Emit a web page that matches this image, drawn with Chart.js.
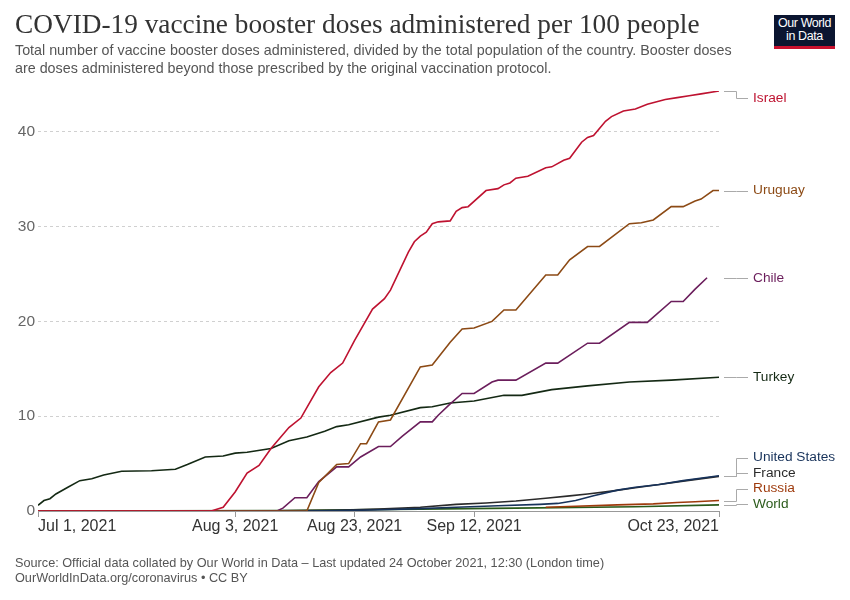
<!DOCTYPE html>
<html>
<head>
<meta charset="utf-8">
<script src="https://cdn.jsdelivr.net/npm/chart.js@4.4.0/dist/chart.umd.min.js"></script>
<style>
  body { margin: 0; background: #fff; }
  #wrap { position: relative; width: 850px; height: 600px; overflow: hidden; }
  #boosterChart { position: absolute; left: 0; top: 0; }
  .title { position: absolute; left: 15px; top: 9px; font: 27.3px "Liberation Serif", serif; color: #333; white-space: nowrap; }
  .subtitle { position: absolute; left: 15px; top: 41px; font: 14.3px "Liberation Sans", Arial, sans-serif; line-height: 18px; color: #555; white-space: nowrap; }
  .logo { position: absolute; left: 774px; top: 15px; width: 61px; height: 29px; background: #0b1530; border-bottom: 3px solid #c8102e;
          color: #fff; font: 12.5px "Liberation Sans", Arial, sans-serif; letter-spacing: -0.4px; line-height: 13px; text-align: center; padding-top: 2px; }
  .footer { position: absolute; left: 15px; top: 556px; font: 12.7px "Liberation Sans", Arial, sans-serif; line-height: 15px; color: #555; white-space: nowrap; }
</style>
</head>
<body>
<div id="wrap">
  <canvas id="boosterChart" width="850" height="600"></canvas>
  <div class="title">COVID-19 vaccine booster doses administered per 100 people</div>
  <div class="subtitle">Total number of vaccine booster doses administered, divided by the total population of the country. Booster doses<br>are doses administered beyond those prescribed by the original vaccination protocol.</div>
  <div class="logo">Our World<br>in Data</div>
  <div class="footer">Source: Official data collated by Our World in Data – Last updated 24 October 2021, 12:30 (London time)<br>OurWorldInData.org/coronavirus • CC BY</div>
</div>
<script>
// days counted from Jul 1, 2021
const xTickDays = [0, 33, 53, 73, 114];
const xTickLabels = ['Jul 1, 2021', 'Aug 3, 2021', 'Aug 23, 2021', 'Sep 12, 2021', 'Oct 23, 2021'];
const yTicks = [0, 10, 20, 30, 40];

const israelDays = [0, 29, 31, 33, 35, 37, 39, 42, 44, 47, 49, 51, 53, 56, 58, 59, 62, 63, 64, 65, 66, 67, 69, 70, 71, 72, 75, 77, 78, 79, 80, 82, 85, 86, 88, 89, 91, 92, 93, 95, 96, 98, 100, 102, 105, 107, 109, 111, 114];
const israelValues = [0, 0, 0.4, 2.0, 4.0, 4.8, 6.6, 8.8, 9.8, 13.1, 14.6, 15.6, 18.0, 21.3, 22.4, 23.3, 27.3, 28.4, 29.0, 29.4, 30.3, 30.5, 30.6, 31.6, 32.0, 32.1, 33.8, 34.0, 34.4, 34.6, 35.1, 35.3, 36.2, 36.3, 37.0, 37.2, 38.9, 39.4, 39.6, 41.1, 41.6, 42.2, 42.4, 42.9, 43.4, 43.6, 43.8, 44.0, 44.3];

const uruguayDays = [0, 45, 47, 50, 52, 54, 55, 57, 59, 64, 66, 69, 71, 73, 76, 78, 80, 85, 87, 89, 92, 94, 99, 101, 103, 106, 108, 110, 111, 113, 114];
const uruguayValues = [0, 0, 3.0, 4.9, 5.0, 7.1, 7.1, 9.4, 9.6, 15.2, 15.4, 17.8, 19.2, 19.3, 20.0, 21.2, 21.2, 24.9, 24.9, 26.5, 27.9, 27.9, 30.3, 30.4, 30.7, 32.1, 32.1, 32.7, 32.9, 33.8, 33.8];

const chileDays = [0, 40, 41, 43, 45, 47, 50, 52, 54, 57, 59, 61, 64, 66, 67, 69, 71, 73, 76, 77, 80, 85, 87, 92, 94, 99, 102, 106, 108, 110, 112];
const chileValues = [0, 0, 0.3, 1.4, 1.4, 3.1, 4.65, 4.65, 5.7, 6.8, 6.8, 7.9, 9.4, 9.4, 10.1, 11.3, 12.4, 12.4, 13.6, 13.8, 13.8, 15.6, 15.6, 17.7, 17.7, 19.9, 19.9, 22.1, 22.1, 23.4, 24.6];

const turkeyDays = [0, 1, 2, 3, 5, 7, 9, 11, 14, 19, 23, 25, 28, 31, 33, 35, 39, 42, 45, 48, 50, 52, 57, 59, 64, 66, 69, 71, 73, 78, 81, 86, 92, 99, 106, 114];
const turkeyValues = [0.6, 1.1, 1.3, 1.8, 2.5, 3.2, 3.4, 3.8, 4.2, 4.25, 4.4, 4.9, 5.7, 5.8, 6.1, 6.2, 6.6, 7.4, 7.8, 8.4, 8.9, 9.1, 9.9, 10.1, 10.9, 11.0, 11.4, 11.5, 11.6, 12.2, 12.2, 12.8, 13.2, 13.6, 13.8, 14.1];

const usDays = [0, 45, 50, 56, 64, 70, 77, 84, 87, 90, 93, 97, 100, 104, 108, 114];
const usValues = [0, 0, 0.05, 0.1, 0.25, 0.4, 0.55, 0.7, 0.8, 1.1, 1.6, 2.2, 2.5, 2.8, 3.2, 3.72];

const franceDays = [0, 40, 50, 57, 64, 70, 75, 80, 85, 89, 92, 96, 100, 104, 108, 114];
const franceValues = [0, 0.02, 0.08, 0.2, 0.4, 0.7, 0.85, 1.05, 1.35, 1.6, 1.8, 2.1, 2.45, 2.8, 3.15, 3.65];

const russiaDays = [85, 90, 97, 103, 107, 110, 114];
const russiaValues = [0.4, 0.5, 0.65, 0.75, 0.9, 0.97, 1.1];

const worldDays = [0, 40, 64, 80, 100, 114];
const worldValues = [0, 0.05, 0.2, 0.3, 0.45, 0.65];

function toPoints(days, values) {
    return days.map((d, i) => ({ x: d, y: values[i] }));
}

function series(label, days, values, color) {
    return {
        label: label,
        data: toPoints(days, values),
        borderColor: color,
        borderWidth: 1.6,
        pointRadius: 0,
        fill: false,
        tension: 0
    };
}

const datasets = [
    series('Israel', israelDays, israelValues, '#be1230'),
    series('Uruguay', uruguayDays, uruguayValues, '#8c4a15'),
    series('Chile', chileDays, chileValues, '#6b1e5c'),
    series('Turkey', turkeyDays, turkeyValues, '#142914'),
    series('United States', usDays, usValues, '#17325a'),
    series('France', franceDays, franceValues, '#2b2b2b'),
    series('Russia', russiaDays, russiaValues, '#9e3a0c'),
    series('World', worldDays, worldValues, '#2a5a1a')
];

const sideLabels = {
    id: 'sideLabels',
    afterDraw(chart) {
        const ctx = chart.ctx;
        const area = chart.chartArea;
        const xs = chart.scales.x;
        const ys = chart.scales.y;

        // x tick labels: first left aligned, last right aligned
        ctx.save();
        ctx.font = '16px "Liberation Sans", Arial, sans-serif';
        ctx.fillStyle = '#333';
        ctx.textBaseline = 'middle';
        xTickDays.forEach((d, i) => {
            ctx.textAlign = i === 0 ? 'left' : (i === xTickDays.length - 1 ? 'right' : 'center');
            ctx.fillText(xTickLabels[i], xs.getPixelForValue(d), area.bottom + 16);
        });

        // series labels on the right
        const items = chart.data.datasets.map(ds => {
            const last = ds.data[ds.data.length - 1];
            return { label: ds.label, color: ds.borderColor, y0: ys.getPixelForValue(last.y) };
        });
        items.sort((a, b) => a.y0 - b.y0);
        const gap = 15.5, minY = area.top + 7, maxY = area.bottom - 7;
        let prev = -Infinity;
        items.forEach(it => { it.y = Math.max(it.y0, prev + gap, minY); prev = it.y; });
        let next = Infinity;
        for (let i = items.length - 1; i >= 0; i--) {
            items[i].y = Math.min(items[i].y, next - gap, maxY);
            next = items[i].y;
        }
        ctx.font = '13.7px "Liberation Sans", Arial, sans-serif';
        ctx.textAlign = 'left';
        items.forEach(it => {
            const x1 = area.right + 5, xm = area.right + 17, x2 = area.right + 29;
            ctx.strokeStyle = '#aaa';
            ctx.lineWidth = 1;
            ctx.beginPath();
            ctx.moveTo(x1, Math.round(it.y0) + 0.5);
            ctx.lineTo(xm + 0.5, Math.round(it.y0) + 0.5);
            ctx.lineTo(xm + 0.5, Math.round(it.y) + 0.5);
            ctx.lineTo(x2, Math.round(it.y) + 0.5);
            ctx.stroke();
            ctx.fillStyle = it.color;
            ctx.fillText(it.label, area.right + 34, it.y);
        });
        ctx.restore();
    }
};

new Chart(document.getElementById('boosterChart'), {
    type: 'line',
    data: { datasets: datasets },
    options: {
        responsive: false,
        animation: false,
        layout: { padding: { top: 91, right: 131, bottom: 59, left: 0 } },
        plugins: { legend: { display: false }, tooltip: { enabled: false } },
        scales: {
            x: {
                type: 'linear',
                min: 0,
                max: 114,
                afterBuildTicks: s => { s.ticks = xTickDays.map(v => ({ value: v })); },
                afterFit: s => { s.height = 30; },
                ticks: { display: false },
                grid: { drawOnChartArea: false, drawTicks: true, tickLength: 6, color: '#999' },
                border: { color: '#999' }
            },
            y: {
                min: 0,
                max: 44.3,
                afterBuildTicks: s => { s.ticks = yTicks.map(v => ({ value: v })); },
                afterFit: s => { s.width = 38; },
                ticks: { font: { size: 15.5, family: '"Liberation Sans", Arial, sans-serif' }, color: '#666', padding: 3 },
                grid: { color: '#d0d0d0', drawTicks: false },
                border: { display: false, dash: [3, 3] }
            }
        }
    },
    plugins: [sideLabels]
});
</script>
</body>
</html>
